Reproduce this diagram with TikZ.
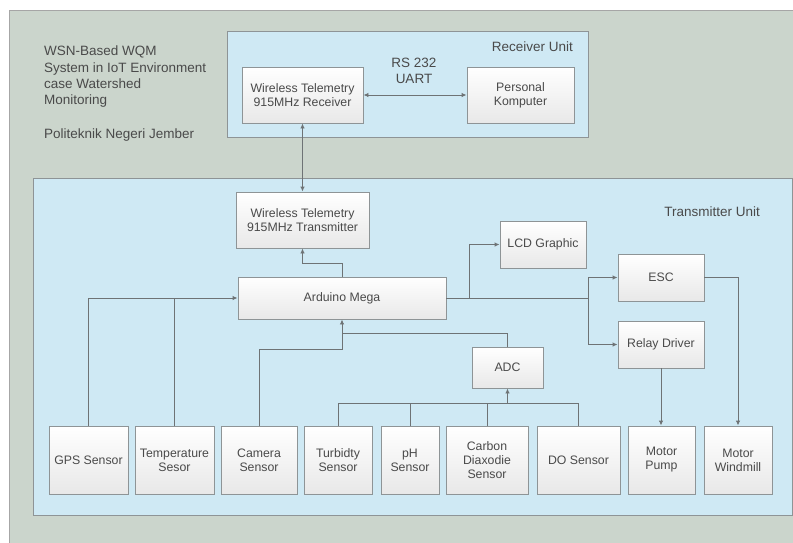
\documentclass[tikz,border=0pt]{standalone}
\usepackage{fontspec}
\setmainfont{Liberation Sans}
\usetikzlibrary{arrows.meta}
\definecolor{panelgray}{HTML}{CBD5CC}
\definecolor{unitblue}{HTML}{CFE9F4}
\definecolor{edgegray}{HTML}{8E9496}
\definecolor{wiregray}{HTML}{6E7375}
\definecolor{inkgray}{HTML}{4A4A4A}
\tikzset{
  blk/.style={draw=edgegray, line width=0.9pt, rectangle, top color=white,
    bottom color=black!9, text=inkgray, align=center, inner sep=2pt,
    font=\fontsize{12.3}{14}\selectfont},
  lbl/.style={text=inkgray, inner sep=0pt, font=\fontsize{13.5}{16.3}\selectfont},
  wire/.style={draw=wiregray, line width=0.9pt},
  arr/.style={wire, -{Latex[length=5pt,width=4.5pt]}},
  both/.style={wire, {Latex[length=5pt,width=4.5pt]}-{Latex[length=5pt,width=4.5pt]}},
}
\begin{document}
\begin{tikzpicture}[x=1pt,y=-1pt]
\useasboundingbox (0,0) rectangle (793,542);
% panels
\fill[white] (0,0) rectangle (793,542);
\filldraw[fill=panelgray, draw=black!35, line width=0.9pt] (9,10) rectangle (794,543);
\filldraw[fill=unitblue, draw=edgegray, line width=0.9pt] (227,31) rectangle (588,137);
\filldraw[fill=unitblue, draw=edgegray, line width=0.9pt] (33,178) rectangle (792,515);
% labels
\node[lbl, anchor=north west, align=left] (title) at (44,46)
  {WSN-Based WQM\\System in IoT Environment\\case Watershed\\Monitoring};
\node[lbl, anchor=west] (inst) at (44,135) {Politeknik Negeri Jember};
\node[lbl, anchor=east] (rxunit) at (573,47) {Receiver Unit};
\node[lbl, anchor=east] (txunit) at (760,212) {Transmitter Unit};
\node[lbl, align=center] (rs) at (414,71) {RS 232\\UART};
% receiver side
\node[blk, minimum width=121, minimum height=56] (rx) at (302.5,95) {Wireless Telemetry\\915MHz Receiver};
\node[blk, minimum width=107, minimum height=56] (pc) at (520.5,95) {Personal\\Komputer};
% transmitter side
\node[blk, minimum width=133, minimum height=56] (tx) at (302.5,220) {Wireless Telemetry\\915MHz Transmitter};
\node[blk, minimum width=208, minimum height=42] (mega) at (342,298) {Arduino Mega};
\node[blk, minimum width=86, minimum height=47] (lcd) at (543,244.5) {LCD Graphic};
\node[blk, minimum width=86, minimum height=47] (esc) at (661,277.5) {ESC};
\node[blk, minimum width=86, minimum height=47] (relay) at (661,344.5) {Relay Driver};
\node[blk, minimum width=71, minimum height=41] (adc) at (507.5,367.5) {ADC};
% bottom row
\node[blk, minimum width=79, minimum height=68] (gps) at (88.5,460) {GPS Sensor};
\node[blk, minimum width=79, minimum height=68] (temp) at (174.5,460) {Temperature\\Sesor};
\node[blk, minimum width=76, minimum height=68] (cam) at (259,460) {Camera\\Sensor};
\node[blk, minimum width=68, minimum height=68] (turb) at (338,460) {Turbidty\\Sensor};
\node[blk, minimum width=58, minimum height=68] (ph) at (410,460) {pH\\Sensor};
\node[blk, minimum width=82, minimum height=68] (co2) at (487,460) {Carbon\\Diaxodie\\Sensor};
\node[blk, minimum width=83, minimum height=68] (do) at (578.5,460) {DO Sensor};
\node[blk, minimum width=67, minimum height=68] (pump) at (661.5,460) {Motor\\Pump};
\node[blk, minimum width=68, minimum height=68] (wind) at (738,460) {Motor\\Windmill};
% junction points
\coordinate (lcdsplit) at (469,298);
\coordinate (split) at (588,298);
\coordinate (camjoin) at (342,349);
\coordinate (adcjoin) at (342,333);
\coordinate (bus) at (338,403);
% connectors
\draw[both] (rx) -- (pc);
\draw[both] (rx.south) -- (tx.north);
\draw[arr] (mega.north) -- ++(0,-13) -| (tx.south);
\draw[wire] (mega.east) -- (split);
\draw[arr] (lcdsplit) |- (lcd.west);
\draw[arr] (split) |- (esc.west);
\draw[arr] (split) |- (relay.west);
\draw[arr] (esc.east) -| (wind.north);
\draw[arr] (relay.south) -- (relay.south |- pump.north);
\draw[arr] (gps.north) |- (mega.west);
\draw[wire] (temp.north) -- (temp.north |- mega.west);
\draw[arr] (cam.north) |- (camjoin) -- (mega.south);
\draw[wire] (adc.north) |- (adcjoin);
\draw[wire] (turb.north) |- (bus) -| (do.north);
\draw[wire] (ph.north) -- (ph.north |- bus);
\draw[wire] (co2.north) -- (co2.north |- bus);
\draw[arr] (adc.south |- bus) -- (adc.south);
\end{tikzpicture}
\end{document}
